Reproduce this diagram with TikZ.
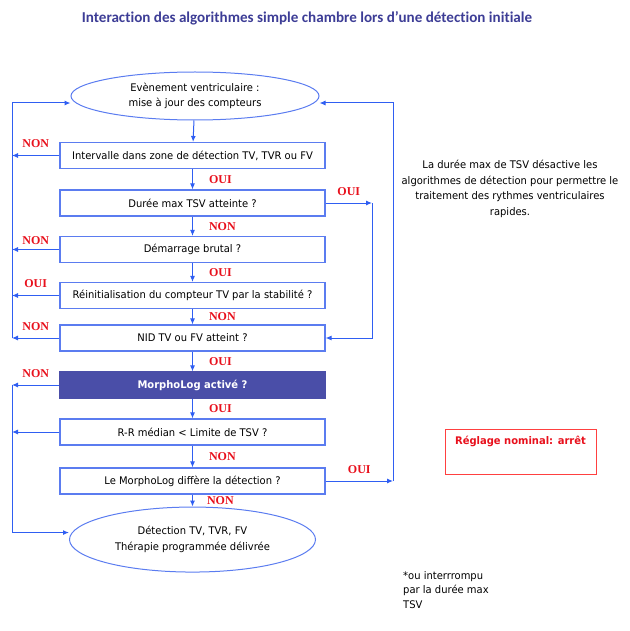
\documentclass[tikz,border=0pt]{standalone}
\usepackage{fontspec}
\setmainfont{DejaVu Sans}[FakeStretch=0.95]
\newfontfamily\lblfont{Liberation Serif}
\newfontfamily\titlefont{Carlito}[Ligatures=NoCommon]
\usepackage{tikz}
\usetikzlibrary{arrows.meta,positioning,shapes.geometric}

\definecolor{bordblue}{HTML}{5B7CF0}
\definecolor{arrblue}{HTML}{2F5EF2}
\definecolor{morphfill}{HTML}{4A4EA8}
\definecolor{titleblue}{HTML}{3D3D96}
\definecolor{labred}{HTML}{E8101C}

\begin{document}
\begin{tikzpicture}[
  x=1pt, y=1pt,
  every node/.style={font=\fontsize{10.5}{15.5}\selectfont},
  blk/.style  ={draw=bordblue, line width=1.1pt, fill=white,
                minimum width=265pt, minimum height=26pt,
                inner sep=0pt, align=center},
  mblk/.style ={blk, draw=morphfill, fill=morphfill, text=white,
                font=\fontsize{10.5}{12}\selectfont\bfseries},
  oval/.style ={draw=bordblue, line width=1pt, ellipse,
                inner sep=0pt, align=center},
  lbl/.style  ={text=labred, inner sep=1pt,
                font=\lblfont\fontsize{12}{12}\selectfont\bfseries},
  arr/.style  ={-{Latex[length=6pt,width=5pt]}, arrblue, line width=1pt}
]
\useasboundingbox (0,0) rectangle (629,-631);

%% ---- Title ---------------------------------------------------------
\node[font=\titlefont\fontsize{15.1}{16}\selectfont\bfseries, text=titleblue]
     (title) at (307,-18)
     {Interaction des algorithmes simple chambre lors d’une détection initiale};

%% ---- Main column ---------------------------------------------------
\node[oval, minimum width=248pt, minimum height=48pt] (event) at (195,-96)
     {Evènement ventriculaire :\\mise à jour des compteurs};

\node[blk] (zone) at (192.5,-155.5)
     {Intervalle dans zone de détection TV, TVR ou FV};
\node[blk, below=20.4pt of zone]  (dmax)   {Durée max TSV atteinte ?};
\node[blk, below=19.4pt of dmax]  (onset)  {Démarrage brutal ?};
\node[blk, below=18.9pt of onset] (stab)   {Réinitialisation du compteur TV par la stabilité ?};
\node[blk, below=15.4pt of stab]  (nid)    {NID TV ou FV atteint ?};
\node[mblk, below=19.9pt of nid]  (morph)  {MorphoLog activé ?};
\node[blk, below=19.9pt of morph] (rr)     {R-R médian < Limite de TSV ?};
\node[blk, below=21.9pt of rr]    (differ) {Le MorphoLog diffère la détection ?};

\node[oval, minimum width=246pt, minimum height=65pt, below=12pt of differ]
     (detect) {Détection TV, TVR, FV\\Thérapie programmée délivrée};

%% ---- Side notes ----------------------------------------------------
\node[align=center] (note) at (510,-189)
     {La durée max de TSV désactive les\\algorithmes de détection pour permettre le\\traitement des rythmes ventriculaires\\rapides.};

\node[draw=red!75, line width=0.9pt, minimum width=151pt, minimum height=45pt,
      text depth=22pt, text=labred, font=\fontsize{10.5}{12}\selectfont\bfseries]
     (nominal) at (520.5,-451.5) {Réglage nominal: arrêt};

\node[anchor=north west, align=left, inner sep=0pt,
      font=\fontsize{10.5}{14.5}\selectfont] (foot) at (403,-571)
     {*ou interrrompu\\par la durée max\\TSV};

%% ---- Return lines --------------------------------------------------
\coordinate (lft)  at (12,0);
\coordinate (rgt1) at (372,0);
\coordinate (rgt2) at (393,0);

%% ---- Vertical flow -------------------------------------------------
\draw[arr] (event)  -- (zone);
\draw[arr] (zone)   -- (dmax)   node[midway, right=15pt, lbl] {OUI};
\draw[arr] (dmax)   -- (onset)  node[midway, right=15pt, lbl] {NON};
\draw[arr] (onset)  -- (stab)   node[midway, right=15pt, lbl] {OUI};
\draw[arr] (stab)   -- (nid)    node[midway, right=15pt, lbl] {NON};
\draw[arr] (nid)    -- (morph)  node[midway, right=15pt, lbl] {OUI};
\draw[arr] (morph)  -- (rr)     node[midway, right=15pt, lbl] {OUI};
\draw[arr] (rr)     -- (differ) node[midway, right=15pt, lbl] {NON};
\draw[arr] (differ) -- (detect) node[midway, right=13pt, lbl] {NON};

%% ---- Left loops ----------------------------------------------------
\draw[arr] (zone.west)  -- (zone.west -| lft)  node[midway, above=6pt, lbl] {NON};
\draw[arr] (onset.west) -- (onset.west -| lft) node[midway, above=3pt, lbl] {NON};
\draw[arr] (stab.west)  -- (stab.west -| lft)  node[midway, above=6pt, lbl] {OUI};
\draw[arr] (nid.west)   -- (nid.west -| lft)   node[midway, above=6pt, lbl] {NON};
\draw[arr] (nid.west -| lft) -- ([yshift=-7pt]event.west -| lft)
           -- ([yshift=-7pt]event.west);

\draw[arr] (morph.west) -- (morph.west -| lft) node[midway, above=6pt, lbl] {NON};
\draw[arr] (rr.west)    -- (rr.west -| lft);
\draw[arr] (morph.west -| lft) -- ([yshift=7pt]detect.west -| lft)
           -- ([yshift=7pt]detect.west);

%% ---- Right loops ---------------------------------------------------
\draw[arr] (dmax.east) -- (dmax.east -| rgt1) node[midway, above=6pt, lbl] {OUI};
\draw[arr] (dmax.east -| rgt1) -- (nid.east -| rgt1) -- (nid.east);

\draw[arr] (differ.east) -- (differ.east -| rgt2) node[midway, above=6pt, lbl] {OUI};
\draw[arr] (differ.east -| rgt2) -- ([yshift=-7pt]event.east -| rgt2)
           -- ([yshift=-7pt]event.east);

\end{tikzpicture}
\end{document}
